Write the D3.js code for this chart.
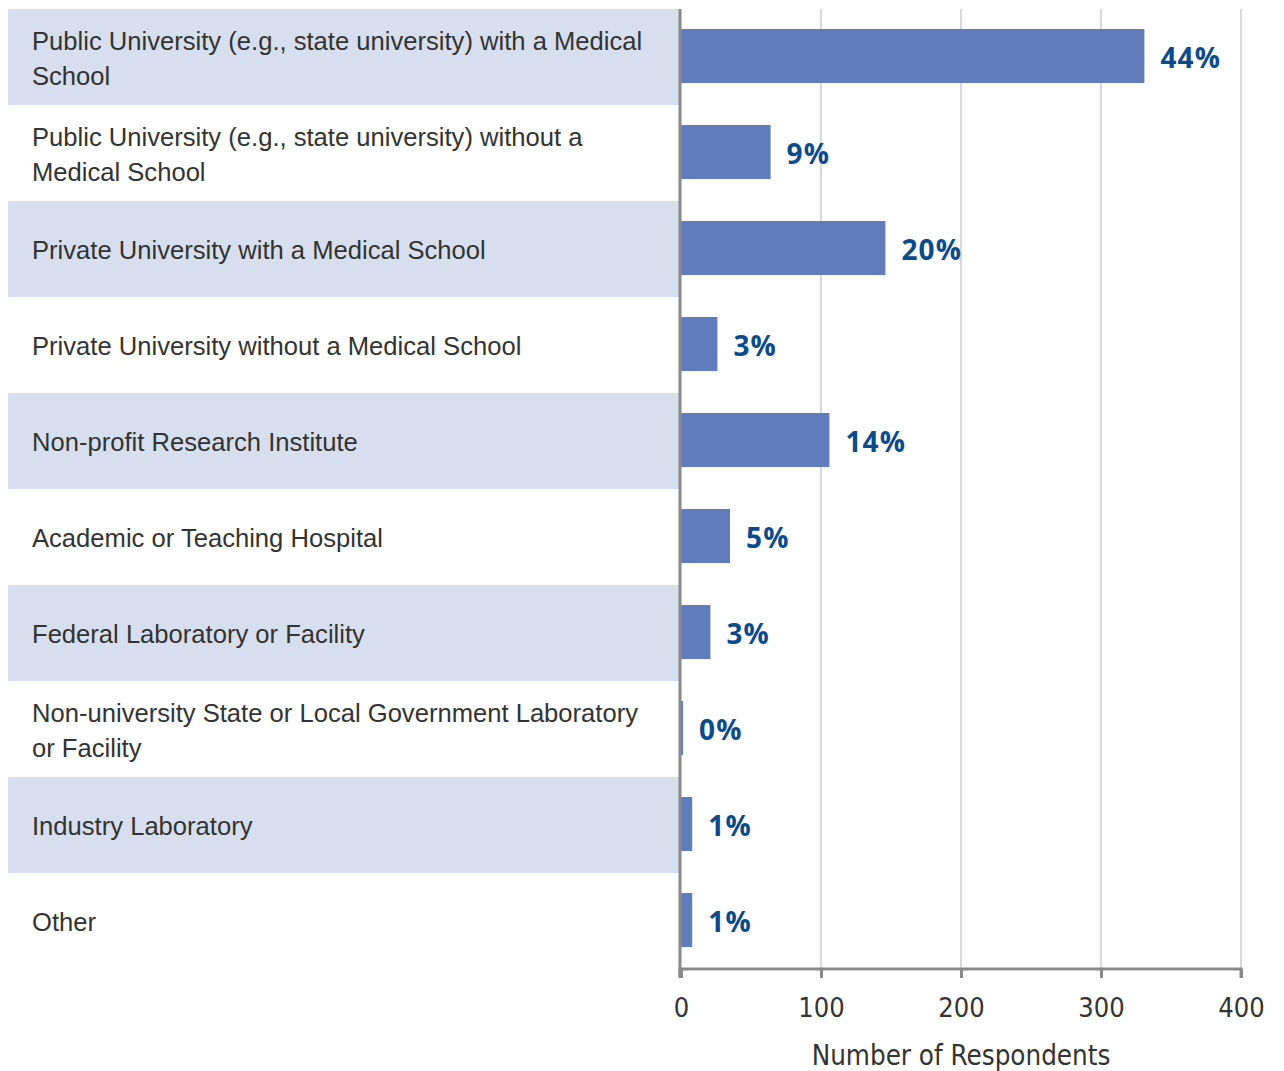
<!DOCTYPE html>
<html>
<head>
<meta charset="utf-8">
<script src="https://cdn.jsdelivr.net/npm/d3@7"></script>
<style>
  body { margin: 0; background: #fff; }
</style>
</head>
<body>
<div id="chart"></div>
<script>
const categories = [
  ["Public University (e.g., state university) with a Medical", "School"],
  ["Public University (e.g., state university) without a", "Medical School"],
  ["Private University with a Medical School"],
  ["Private University without a Medical School"],
  ["Non-profit Research Institute"],
  ["Academic or Teaching Hospital"],
  ["Federal Laboratory or Facility"],
  ["Non-university State or Local Government Laboratory", "or Facility"],
  ["Industry Laboratory"],
  ["Other"]
];
const counts = [331, 64, 146, 26, 106, 35, 21, 1.5, 8, 8];
const percents = ["44%", "9%", "20%", "3%", "14%", "5%", "3%", "0%", "1%", "1%"];
const xTicks = [0, 100, 200, 300, 400];

const W = 1284, H = 1071;
const X0 = 681, X1 = 1241, TOP = 9, BOTTOM = 969;

const svg = d3.select("#chart").append("svg")
  .attr("width", W)
  .attr("height", H);

const x = d3.scaleLinear().domain([0, 400]).range([X0, X1]);
const y = d3.scaleBand()
  .domain(d3.range(categories.length))
  .range([TOP, BOTTOM]);

// alternating label backgrounds
svg.selectAll("rect.bg")
  .data(d3.range(categories.length).filter(i => i % 2 === 0))
  .enter().append("rect")
  .attr("class", "bg")
  .attr("x", 8)
  .attr("y", i => y(i))
  .attr("width", X0 - 8)
  .attr("height", y.bandwidth())
  .attr("fill", "#d7dfee");

// gridlines
svg.selectAll("line.grid")
  .data(xTicks.slice(1))
  .enter().append("line")
  .attr("x1", d => x(d)).attr("x2", d => x(d))
  .attr("y1", TOP).attr("y2", BOTTOM)
  .attr("stroke", "#d9d9d9")
  .attr("stroke-width", 2);

// bars
const pad = 20;
svg.selectAll("rect.bar")
  .data(counts)
  .enter().append("rect")
  .attr("class", "bar")
  .attr("x", x(0))
  .attr("y", (d, i) => y(i) + pad)
  .attr("width", d => x(d) - x(0))
  .attr("height", y.bandwidth() - 2 * pad - 2)
  .attr("fill", "#5f7cbd");

// value labels
svg.selectAll("text.val")
  .data(percents)
  .enter().append("text")
  .attr("class", "val")
  .attr("x", (d, i) => x(counts[i]) + 16)
  .attr("y", (d, i) => y(i) + y.bandwidth() / 2 + 1)
  .attr("dy", "0.36em")
  .attr("font-family", "'Open Sans', sans-serif")
  .attr("font-weight", "bold")
  .attr("font-size", 28)
  .attr("letter-spacing", 1.2)
  .attr("fill", "#0b4a8d")
  .text(d => d);

// category labels
const lab = svg.selectAll("text.cat")
  .data(categories)
  .enter().append("text")
  .attr("class", "cat")
  .attr("font-family", "'Liberation Sans', Arial, sans-serif")
  .attr("font-size", 25.6)
  .attr("fill", "#333");

lab.each(function(lines, i) {
  const t = d3.select(this);
  const lh = 35;
  const cy = y(i) + y.bandwidth() / 2 + 1;
  const start = cy - (lines.length - 1) * lh / 2;
  lines.forEach((s, k) => {
    t.append("tspan")
      .attr("x", 32)
      .attr("y", start + k * lh)
      .attr("dy", "0.36em")
      .text(s);
  });
});

// vertical axis line
svg.append("line")
  .attr("x1", X0 - 1).attr("x2", X0 - 1)
  .attr("y1", TOP).attr("y2", BOTTOM + 8)
  .attr("stroke", "#8a8a8a")
  .attr("stroke-width", 3);

// x axis
const xAxis = svg.append("g")
  .attr("transform", `translate(0, ${BOTTOM})`)
  .call(d3.axisBottom(x).tickValues(xTicks).tickSize(9).tickPadding(20));

xAxis.select(".domain")
  .attr("stroke", "#8a8a8a")
  .attr("stroke-width", 3)
  .attr("d", `M${X0 - 1},9V0H${X1}V9`);
xAxis.selectAll(".tick line")
  .attr("stroke", "#8a8a8a")
  .attr("stroke-width", 3);
xAxis.selectAll(".tick text")
  .attr("font-family", "'DejaVu Sans Condensed', 'Liberation Sans Narrow', sans-serif")
  .attr("font-stretch", "condensed")
  .attr("font-size", 27)
  .attr("fill", "#333");

svg.append("text")
  .attr("x", x(200))
  .attr("y", 1065)
  .attr("text-anchor", "middle")
  .attr("font-family", "'DejaVu Sans Condensed', 'Liberation Sans Narrow', sans-serif")
  .attr("font-stretch", "condensed")
  .attr("font-size", 27.5)
  .attr("fill", "#333")
  .text("Number of Respondents");
</script>
</body>
</html>
